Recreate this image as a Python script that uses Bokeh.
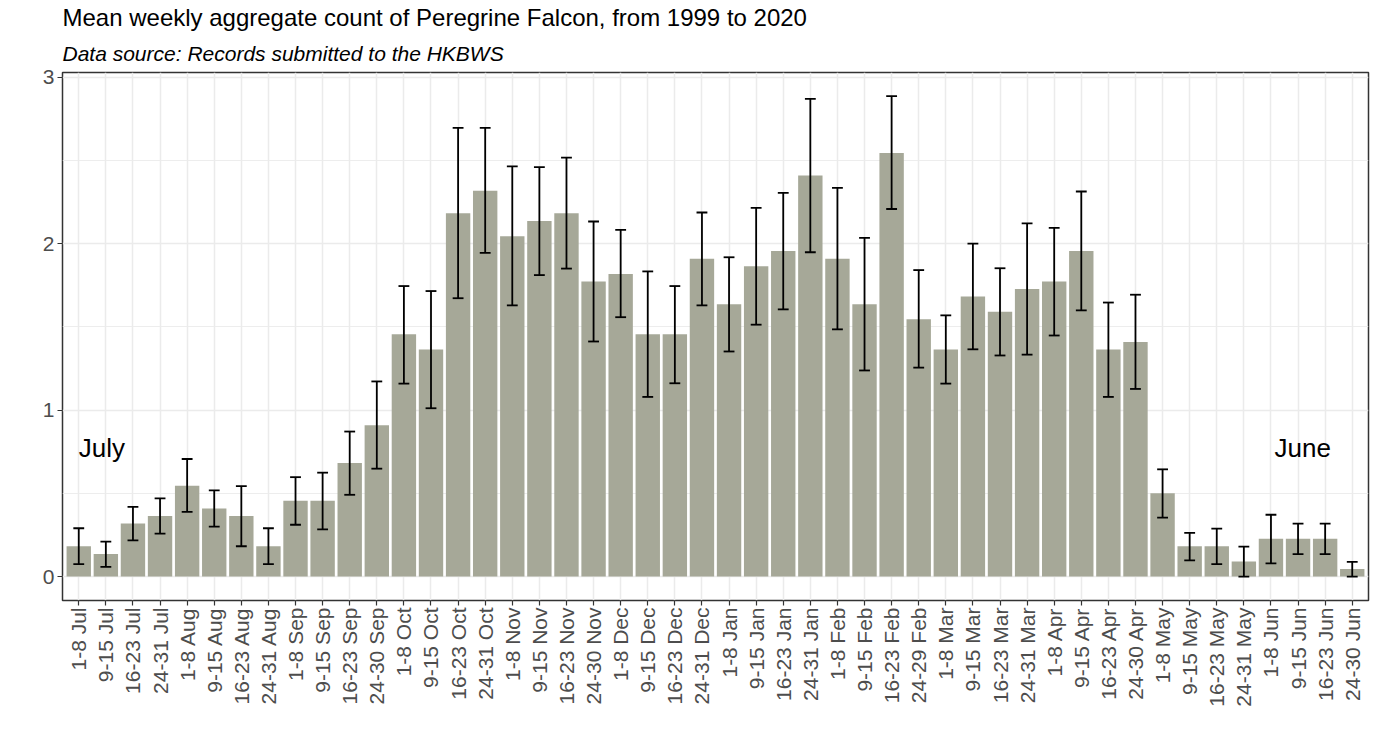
from bokeh.plotting import figure
from bokeh.models import ColumnDataSource, Range1d, FixedTicker, Title
from bokeh.core.properties import value
from bokeh.embed import file_html
from bokeh.resources import INLINE

weeks = ["1-8 Jul", "9-15 Jul", "16-23 Jul", "24-31 Jul",
         "1-8 Aug", "9-15 Aug", "16-23 Aug", "24-31 Aug",
         "1-8 Sep", "9-15 Sep", "16-23 Sep", "24-30 Sep",
         "1-8 Oct", "9-15 Oct", "16-23 Oct", "24-31 Oct",
         "1-8 Nov", "9-15 Nov", "16-23 Nov", "24-30 Nov",
         "1-8 Dec", "9-15 Dec", "16-23 Dec", "24-31 Dec",
         "1-8 Jan", "9-15 Jan", "16-23 Jan", "24-31 Jan",
         "1-8 Feb", "9-15 Feb", "16-23 Feb", "24-29 Feb",
         "1-8 Mar", "9-15 Mar", "16-23 Mar", "24-31 Mar",
         "1-8 Apr", "9-15 Apr", "16-23 Apr", "24-30 Apr",
         "1-8 May", "9-15 May", "16-23 May", "24-31 May",
         "1-8 Jun", "9-15 Jun", "16-23 Jun", "24-30 Jun"]

mean_count = [0.182, 0.136, 0.318, 0.364, 0.545, 0.409, 0.364, 0.182,
              0.455, 0.455, 0.682, 0.909, 1.455, 1.364, 2.182, 2.318,
              2.045, 2.136, 2.182, 1.773, 1.818, 1.455, 1.455, 1.909,
              1.636, 1.864, 1.955, 2.409, 1.909, 1.636, 2.545, 1.545,
              1.364, 1.682, 1.591, 1.727, 1.773, 1.955, 1.364, 1.409,
              0.500, 0.182, 0.182, 0.091, 0.227, 0.227, 0.227, 0.045]

lower_ci = [0.075, 0.058, 0.217, 0.258, 0.388, 0.300, 0.182, 0.075,
            0.311, 0.283, 0.491, 0.648, 1.159, 1.011, 1.672, 1.944,
            1.629, 1.811, 1.850, 1.412, 1.558, 1.079, 1.161, 1.629,
            1.352, 1.513, 1.605, 1.948, 1.485, 1.238, 2.208, 1.255,
            1.159, 1.365, 1.328, 1.333, 1.448, 1.599, 1.079, 1.127,
            0.354, 0.097, 0.075, 0.000, 0.079, 0.135, 0.135, 0.000]

upper_ci = [0.290, 0.210, 0.418, 0.470, 0.706, 0.517, 0.543, 0.290,
            0.597, 0.624, 0.871, 1.172, 1.745, 1.715, 2.695, 2.695,
            2.464, 2.459, 2.517, 2.133, 2.082, 1.833, 1.745, 2.187,
            1.918, 2.215, 2.305, 2.869, 2.335, 2.034, 2.886, 1.841,
            1.569, 2.000, 1.852, 2.122, 2.094, 2.313, 1.646, 1.693,
            0.644, 0.262, 0.288, 0.180, 0.371, 0.318, 0.318, 0.088]

y_ticks = [0, 1, 2, 3]
y_minor = [0.5, 1.5, 2.5]

FONT = "Liberation Sans"
GREY_TXT = "#4d4d4d"

xs = list(range(1, len(weeks) + 1))
src = ColumnDataSource(dict(
    x=xs, top=mean_count, lo=lower_ci, hi=upper_ci,
    cl=[v - 0.2 for v in xs], cr=[v + 0.2 for v in xs],
))

p = figure(width=1371, height=744, output_backend="svg", toolbar_location=None,
           x_range=Range1d(0.4, len(weeks) + 0.6), y_range=Range1d(-0.144, 3.028),
           min_border_left=62, min_border_right=3, min_border_top=72,
           min_border_bottom=144, title=None)

p.add_layout(Title(text="Data source: Records submitted to the HKBWS",
                   text_font=FONT, text_font_size="21px", text_font_style="italic",
                   text_color="#000000", standoff=16), "above")
p.add_layout(Title(text="Mean weekly aggregate count of Peregrine Falcon, from 1999 to 2020",
                   text_font=FONT, text_font_size="24px", text_font_style="normal",
                   text_color="#000000", standoff=1), "above")

p.background_fill_color = "white"
p.border_fill_color = "white"
p.outline_line_color = "#333333"
p.outline_line_width = 1.5

p.vbar(x="x", top="top", bottom=0, width=0.9, source=src,
       fill_color="#a6a898", line_color=None)

p.segment(x0="x", y0="lo", x1="x", y1="hi", source=src, line_color="black", line_width=1.8)
p.segment(x0="cl", y0="lo", x1="cr", y1="lo", source=src, line_color="black", line_width=1.8)
p.segment(x0="cl", y0="hi", x1="cr", y1="hi", source=src, line_color="black", line_width=1.8)

p.text(x=[1.85], y=[0.775], text=["July"], text_font=value(FONT), text_font_size="26px",
       text_align="center", text_baseline="middle", text_color="black")
p.text(x=[46.17], y=[0.775], text=["June"], text_font=value(FONT), text_font_size="26px",
       text_align="center", text_baseline="middle", text_color="black")

# x axis
p.xaxis.ticker = FixedTicker(ticks=xs)
p.xaxis.major_label_overrides = {i: w for i, w in zip(xs, weeks)}
p.xaxis.major_label_orientation = 1.5707963
p.xaxis.major_label_text_font = FONT
p.xaxis.major_label_text_font_size = "21px"
p.xaxis.major_label_text_color = GREY_TXT
p.xaxis.major_label_standoff = 2

# y axis
p.yaxis.ticker = FixedTicker(ticks=y_ticks, minor_ticks=y_minor)
p.yaxis.major_label_text_font = FONT
p.yaxis.major_label_text_font_size = "21px"
p.yaxis.major_label_text_color = GREY_TXT
p.yaxis.major_label_standoff = 3

for ax in (p.xaxis, p.yaxis):
    ax.axis_line_color = None
    ax.major_tick_line_color = "#333333"
    ax.major_tick_line_width = 1.2
    ax.major_tick_out = 5
    ax.major_tick_in = 0
    ax.minor_tick_line_color = None

p.xgrid.grid_line_color = "#ebebeb"
p.xgrid.grid_line_width = 1.5
p.ygrid.grid_line_color = "#ebebeb"
p.ygrid.grid_line_width = 1.5
p.ygrid.minor_grid_line_color = "#ebebeb"
p.ygrid.minor_grid_line_width = 0.9

open("out.html", "w").write(file_html(p, INLINE))
